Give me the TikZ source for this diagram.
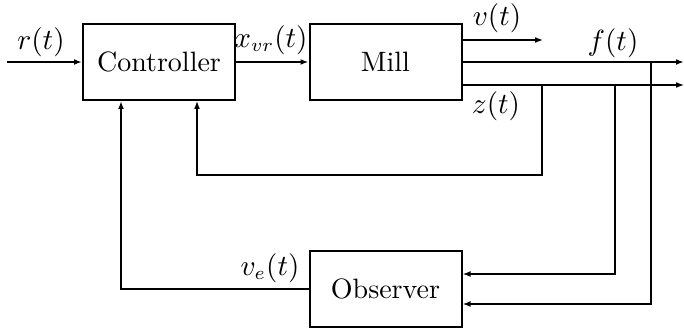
\documentclass[tikz,border=0pt]{standalone}
\usetikzlibrary{arrows.meta,calc}
\begin{document}
\begin{tikzpicture}[x=0.375pt,y=-0.375pt,
  blk/.style={draw,line width=0.75pt,minimum width=57pt,minimum height=28.5pt,inner sep=0pt,font=\fontsize{10.5}{12}\selectfont},
  lab/.style={inner sep=0pt,font=\fontsize{10.5}{12}\selectfont},
  sig/.style={line width=0.65pt,-{Latex[length=3pt,width=2.2pt]}},
  sigthin/.style={line width=0.45pt,-{Latex[length=3pt,width=2.2pt]}},
  sigbold/.style={line width=0.8pt,-{Latex[length=3pt,width=2.2pt]}}]
\useasboundingbox (0,0) rectangle (684,331);
\node[blk] (ctrl) at (159,62) {Controller};
\node[blk] (mill) at (385.5,62) {Mill};
\node[blk] (obs) at (385.5,289) {Observer};
% input
\coordinate (rin) at (7,62);
\draw[sig] (rin) -- (ctrl.west);
\node[lab] (rlab) at (41,42) {$r(t)$};
\draw[sig] (ctrl.east) -- (mill.west);
\node[lab] (xlab) at (271,40) {$x_{vr}(t)$};
% mill outputs
\coordinate (vend) at (543,40);
\draw[sigthin] (mill.east |- vend) -- (vend);
\node[lab] (vlab) at (497,18) {$v(t)$};
\coordinate (fend) at (684,62);
\draw[sigbold] (mill.east) -- (fend);
\node[lab] (flab) at (613,43) {$f(t)$};
\coordinate (zend) at (684,85);
\draw[sigthin] (mill.east |- zend) -- (zend);
\node[lab] (zlab) at (496,106) {$z(t)$};
% feedback to controller from z
\coordinate (z1) at (542,85);
\coordinate (zb) at (542,175);
\coordinate (cin2) at ($(ctrl.south)+(38,0)$);
\draw[sigthin] (z1) -- (zb) -| (cin2);
% to observer
\coordinate (z2) at (615,85);
\coordinate (oin1) at ($(obs.east)+(0,-15)$);
\draw[sigbold] (z2) |- (oin1);
\coordinate (f3) at (651,62);
\coordinate (oin2) at ($(obs.east)+(0,15)$);
\draw[sig] (f3) |- (oin2);
% observer to controller
\coordinate (cin1) at ($(ctrl.south)+(-38,0)$);
\draw[sig] (obs.west) -| (cin1);
\node[lab] (velab) at (270,268) {$v_e(t)$};
\end{tikzpicture}
\end{document}
